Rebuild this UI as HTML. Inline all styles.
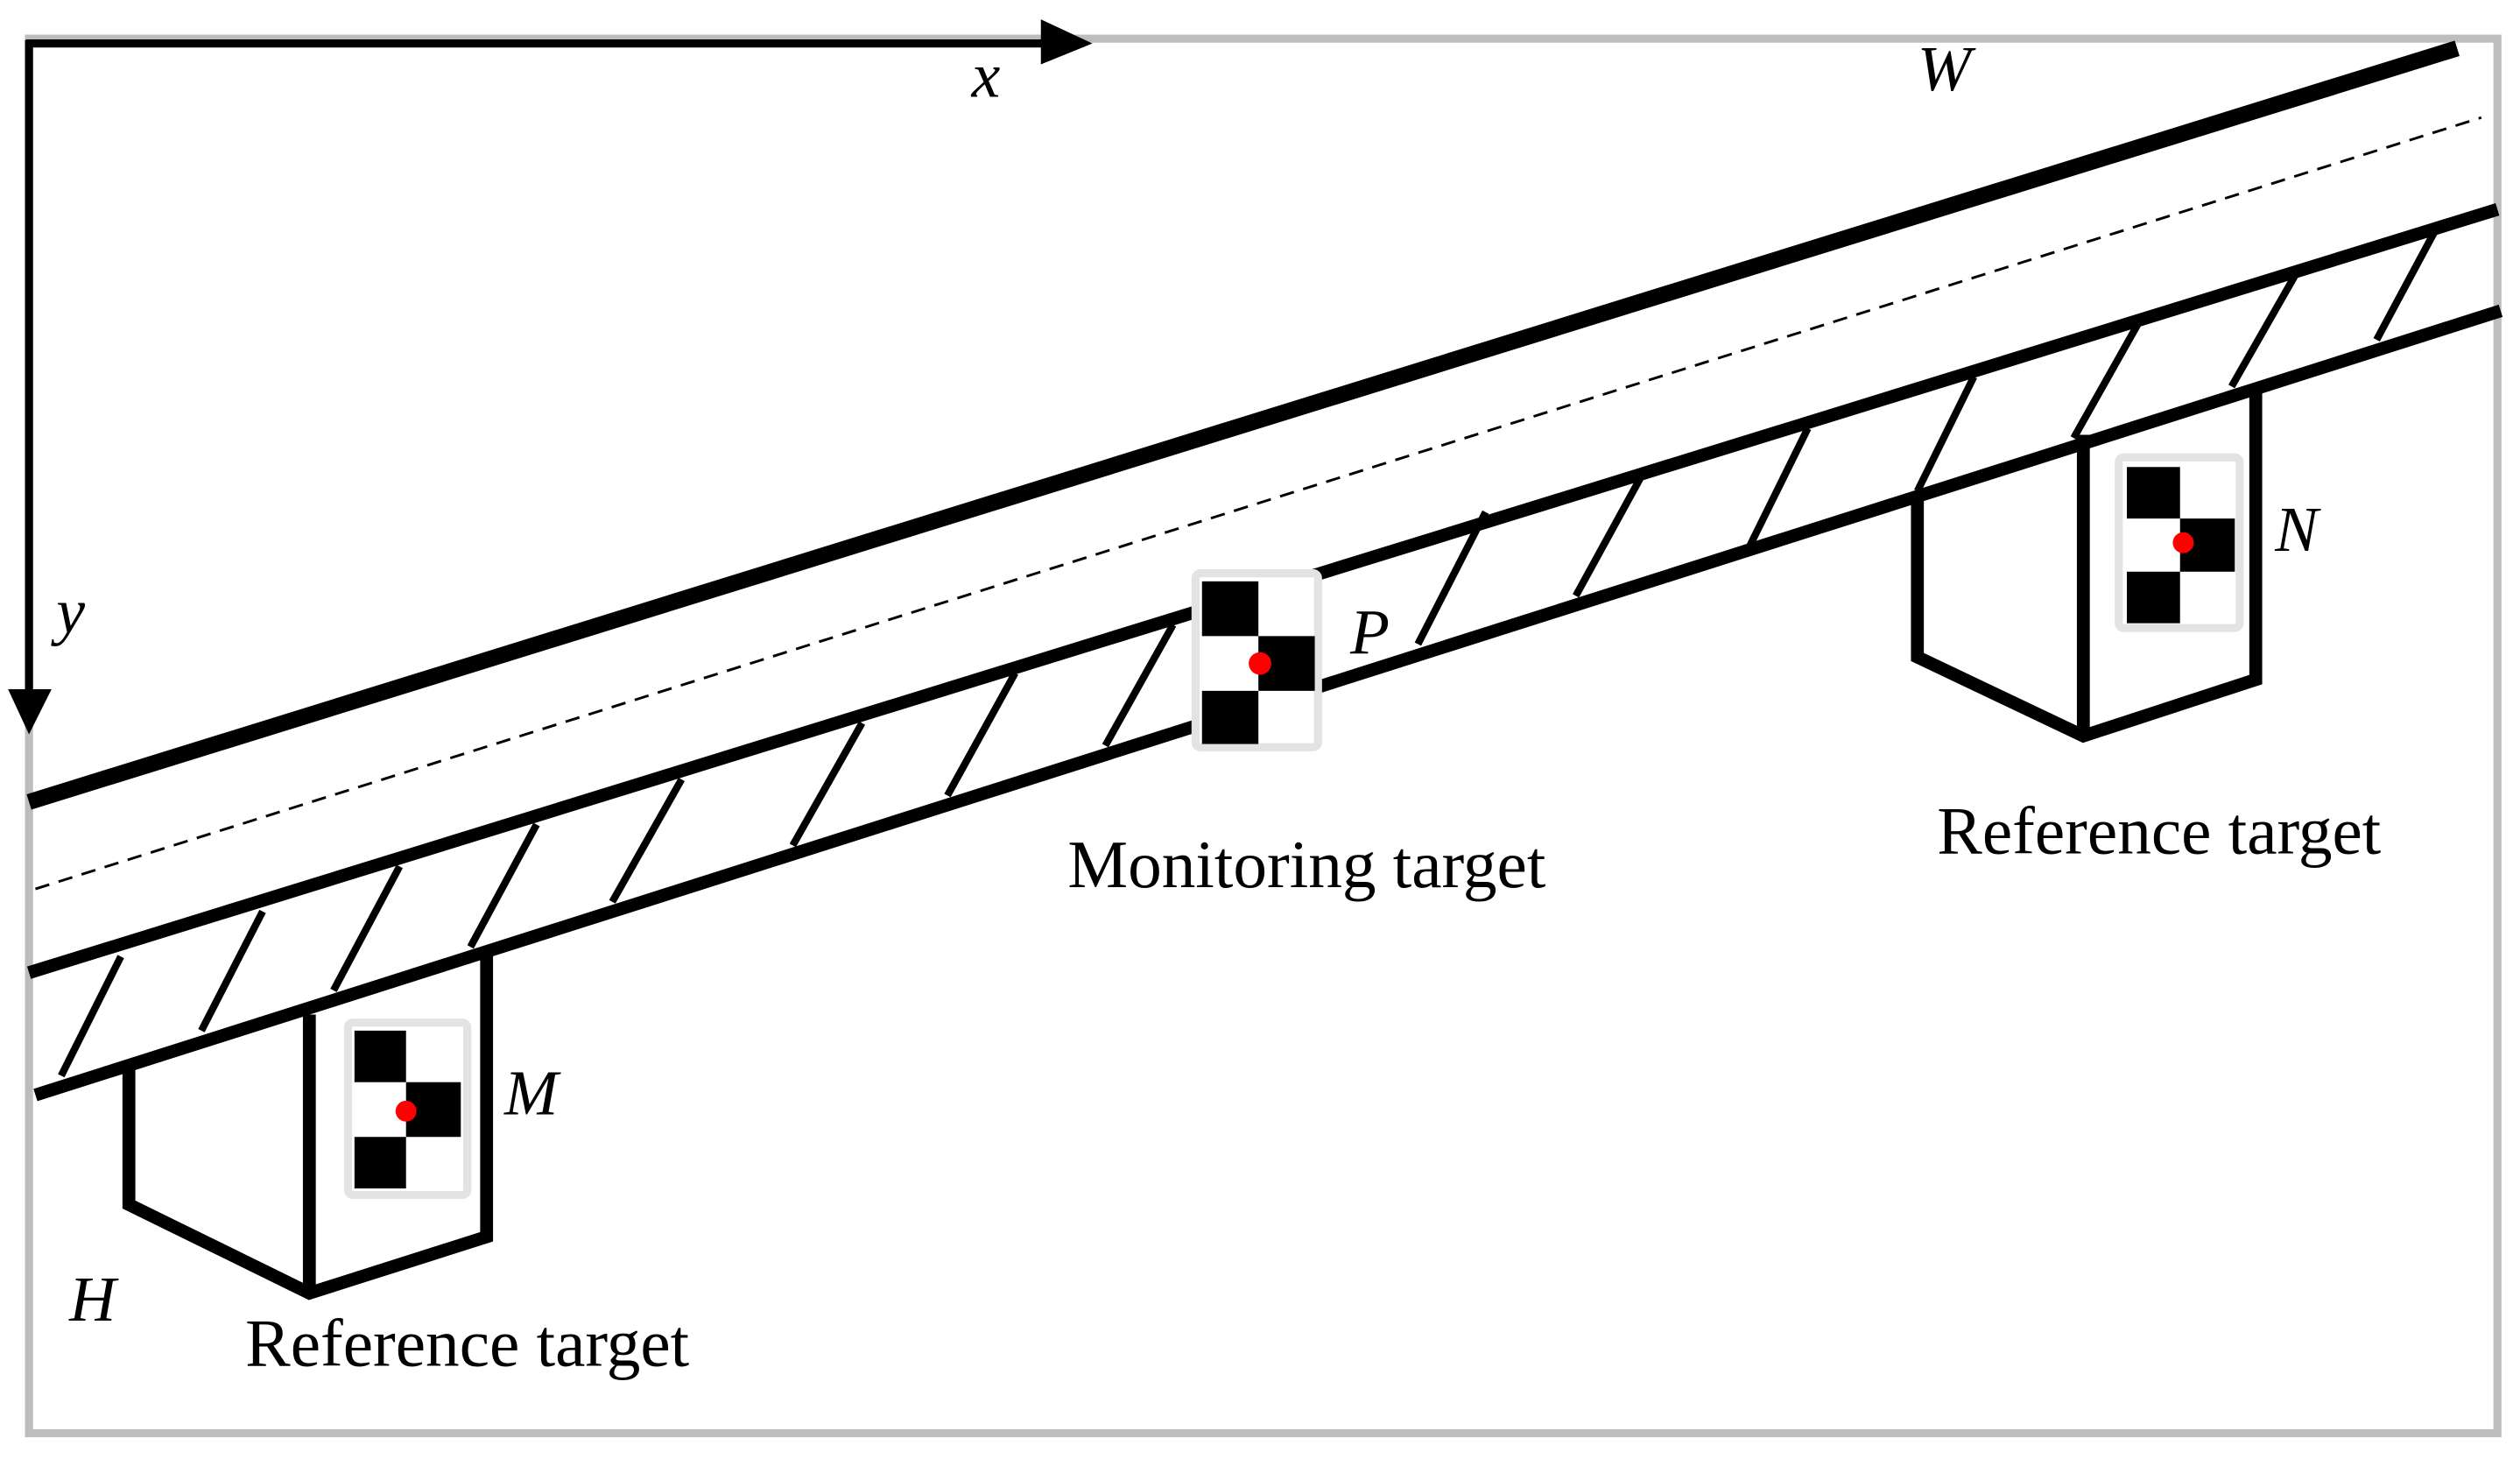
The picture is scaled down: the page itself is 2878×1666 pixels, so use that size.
<!DOCTYPE html>
<html><head><style>html,body{margin:0;padding:0;background:#fff}svg{display:block}</style></head>
<body>
<svg width="2878" height="1666" viewBox="0 0 1564 906" preserveAspectRatio="none" xmlns="http://www.w3.org/2000/svg">
<rect x="18" y="24" width="1532" height="866" fill="none" stroke="#bdbdbd" stroke-width="5"/>
<g stroke="#000" fill="none" stroke-linecap="butt">
<path d="M16 27 H652" stroke-width="5"/>
<path d="M18 25 V430" stroke-width="5"/>
<line x1="18" y1="498" x2="1525" y2="30" stroke-width="10"/>
<line x1="22" y1="552" x2="1540" y2="73" stroke-width="1.6" stroke-dasharray="9,6"/>
<line x1="18" y1="604" x2="1550" y2="130" stroke-width="8"/>
<line x1="22" y1="680" x2="1552" y2="193" stroke-width="8"/>
<g stroke-width="4.5">
<line x1="38" y1="668" x2="75" y2="594"/><line x1="125" y1="640" x2="163" y2="566"/>
<line x1="207" y1="615" x2="248" y2="538"/><line x1="292" y1="588" x2="333" y2="512"/>
<line x1="380" y1="560" x2="423" y2="484"/><line x1="492" y1="525" x2="535" y2="449"/>
<line x1="588" y1="494" x2="630" y2="418"/><line x1="686" y1="463" x2="728" y2="388"/>
<line x1="880" y1="400" x2="922" y2="318"/><line x1="978" y1="370" x2="1018" y2="297"/>
<line x1="1083" y1="345" x2="1122" y2="266"/><line x1="1190" y1="305" x2="1225" y2="234"/>
<line x1="1287" y1="272" x2="1327" y2="201"/><line x1="1385" y1="240" x2="1425" y2="170"/>
<line x1="1475" y1="211" x2="1512" y2="142"/>
</g>
<g stroke-width="8" stroke-linejoin="miter">
<path d="M80 660 V748 L192 803 L302 768 V592"/><path d="M192 630 V803"/>
<path d="M1190 310 V408 L1293 457 L1400 422 V242"/><path d="M1293 270 V457"/>
</g>
</g>
<polygon points="646,12 678,27 646,40" fill="#000"/>
<polygon points="5,428 18,456 32,428" fill="#000"/>
<g>
<rect x="216" y="635" width="74" height="107" rx="3" fill="#fff" stroke="#e3e3e3" stroke-width="5"/>
<rect x="220" y="640" width="32" height="32"/><rect x="252" y="672" width="34" height="34"/><rect x="220" y="706" width="32" height="32"/>
<circle cx="252" cy="690" r="6.5" fill="red"/>
<rect x="742" y="356" width="76" height="108" rx="3" fill="#fff" stroke="#e3e3e3" stroke-width="5"/>
<rect x="746" y="361" width="35" height="34"/><rect x="781" y="395" width="35" height="34"/><rect x="746" y="429" width="35" height="33"/>
<circle cx="782" cy="412" r="7" fill="red"/>
<rect x="1315" y="284" width="75" height="106" rx="3" fill="#fff" stroke="#e3e3e3" stroke-width="5"/>
<rect x="1320" y="290" width="33" height="32"/><rect x="1353" y="322" width="34" height="33"/><rect x="1320" y="355" width="33" height="32"/>
<circle cx="1355" cy="337" r="6.5" fill="red"/>
</g>
<g font-family="Liberation Serif, serif" font-size="40" font-style="italic" fill="#000">
<text x="603" y="60">x</text><text x="1190" y="56">W</text><text x="35" y="393">y</text>
<text x="838" y="406">P</text><text x="1412" y="342">N</text><text x="313" y="692">M</text><text x="43" y="820">H</text>
</g>
<g font-family="Liberation Serif, serif" font-size="42" fill="#000" text-anchor="middle">
<text x="811" y="551">Monitoring target</text>
<text x="1340" y="530">Reference target</text>
<text x="290" y="848">Reference target</text>
</g>
</svg>
</body></html>
